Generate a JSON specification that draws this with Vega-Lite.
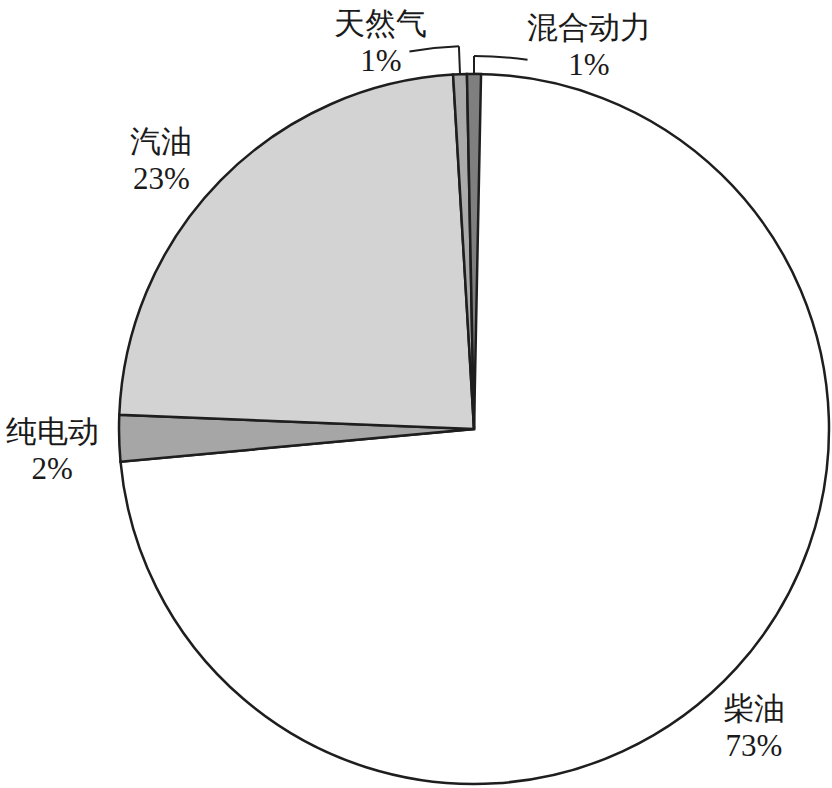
{
  "$schema": "https://vega.github.io/schema/vega-lite/v6.json",
  "autosize": "none",
  "width": 710,
  "height": 710,
  "padding": {"left": 119, "top": 74, "right": 3, "bottom": 4},
  "background": "white",
  "config": {
    "view": {"stroke": null},
    "text": {"font": "serif", "fontSize": 31, "lineHeight": 37, "lineBreak": "\n", "align": "center", "baseline": "middle", "color": "#1a1a1a"}
  },
  "data": {
    "values": [
      {"name": "柴油", "value": 73.3, "order": 1},
      {"name": "纯电动", "value": 2.1, "order": 2},
      {"name": "汽油", "value": 23.35, "order": 3},
      {"name": "天然气", "value": 0.62, "order": 4},
      {"name": "混合动力", "value": 0.63, "order": 5}
    ]
  },
  "transform": [
    {"stack": "value", "groupby": [], "sort": [{"field": "order"}], "as": ["t0", "t1"]},
    {"fold": ["t0", "t1"], "as": ["edge", "ang"]},
    {
      "aggregate": [
        {"op": "min", "field": "ang", "as": "start"},
        {"op": "max", "field": "ang", "as": "end"},
        {"op": "mean", "field": "ang", "as": "mid"}
      ],
      "groupby": ["name", "value", "order"]
    },
    {"calculate": "datum.name + '\\n' + format(datum.value, '.0f') + '%'", "as": "label"}
  ],
  "layer": [
    {
      "mark": {"type": "arc", "stroke": "#1e1e1e", "strokeWidth": 2.5},
      "encoding": {
        "theta": {"field": "start", "type": "quantitative", "stack": null},
        "theta2": {"field": "end"},
        "fill": {
          "field": "name",
          "type": "nominal",
          "scale": {
            "domain": ["柴油", "纯电动", "汽油", "天然气", "混合动力"],
            "range": ["#ffffff", "#a6a6a6", "#d3d3d3", "#aaaaaa", "#7f7f7f"]
          },
          "legend": null
        }
      }
    },
    {
      "transform": [{"filter": "datum.name === '天然气'"}],
      "mark": {"type": "arc", "radius": 383, "radius2": 355, "fillOpacity": 0, "stroke": "#1e1e1e", "strokeWidth": 2},
      "encoding": {
        "theta": {"field": "mid", "type": "quantitative", "stack": null},
        "theta2": {"field": "mid"}
      }
    },
    {
      "transform": [{"filter": "datum.name === '天然气'"}],
      "mark": {"type": "arc", "radius": 383, "radius2": 383, "theta2Offset": -0.13, "fillOpacity": 0, "stroke": "#1e1e1e", "strokeWidth": 2},
      "encoding": {
        "theta": {"field": "mid", "type": "quantitative", "stack": null},
        "theta2": {"field": "mid"}
      }
    },
    {
      "transform": [{"filter": "datum.name === '混合动力'"}],
      "mark": {"type": "arc", "radius": 373, "radius2": 355, "fillOpacity": 0, "stroke": "#1e1e1e", "strokeWidth": 2},
      "encoding": {
        "theta": {"field": "mid", "type": "quantitative", "stack": null},
        "theta2": {"field": "mid"}
      }
    },
    {
      "transform": [{"filter": "datum.name === '混合动力'"}],
      "mark": {"type": "arc", "radius": 373, "radius2": 373, "theta2Offset": 0.144, "fillOpacity": 0, "stroke": "#1e1e1e", "strokeWidth": 2},
      "encoding": {
        "theta": {"field": "mid", "type": "quantitative", "stack": null},
        "theta2": {"field": "mid"}
      }
    },
    {
      "transform": [{"filter": "datum.name === '柴油'"}],
      "mark": {"type": "text", "radius": 410, "dx": -23, "dy": 5},
      "encoding": {"theta": {"field": "mid", "type": "quantitative", "stack": null}, "text": {"field": "label"}}
    },
    {
      "transform": [{"filter": "datum.name === '纯电动'"}],
      "mark": {"type": "text", "radius": 410, "dx": -12, "dy": -7},
      "encoding": {"theta": {"field": "mid", "type": "quantitative", "stack": null}, "text": {"field": "label"}}
    },
    {
      "transform": [{"filter": "datum.name === '汽油'"}],
      "mark": {"type": "text", "radius": 410, "dx": -20, "dy": 1},
      "encoding": {"theta": {"field": "mid", "type": "quantitative", "stack": null}, "text": {"field": "label"}}
    },
    {
      "transform": [{"filter": "datum.name === '天然气'"}],
      "mark": {"type": "text", "radius": 410, "dx": -77, "dy": 6},
      "encoding": {"theta": {"field": "mid", "type": "quantitative", "stack": null}, "text": {"field": "label"}}
    },
    {
      "transform": [{"filter": "datum.name === '混合动力'"}],
      "mark": {"type": "text", "radius": 410, "dx": 115, "dy": 10},
      "encoding": {"theta": {"field": "mid", "type": "quantitative", "stack": null}, "text": {"field": "label"}}
    }
  ]
}
